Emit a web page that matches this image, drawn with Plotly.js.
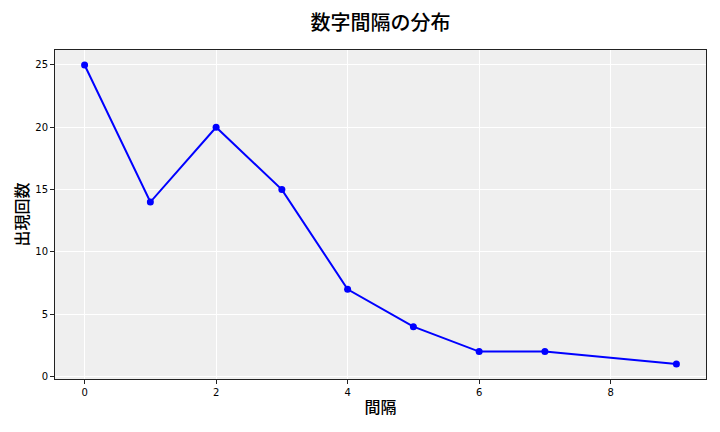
<!DOCTYPE html>
<html><head><meta charset="utf-8">
<script src="https://cdn.plot.ly/plotly-3.0.1.min.js"></script>
<style>body{margin:0;}#chart{width:720px;height:432px;}</style>
</head><body><div id="chart"></div>
<script>
const intervals = [0, 1, 2, 3, 4, 5, 6, 7, 9];
const counts = [25, 14, 20, 15, 7, 4, 2, 2, 1];
const xTicks = [0, 2, 4, 6, 8];
const yTicks = [0, 5, 10, 15, 20, 25];
const cjk = '"Noto Sans CJK JP", "DejaVu Sans", sans-serif';

const trace = {
  x: intervals, y: counts, type: 'scatter', mode: 'lines+markers',
  line: {color: '#0000ff', width: 2},
  marker: {color: '#0000ff', size: 7},
  hoverinfo: 'skip'
};
const axisBase = {
  showgrid: true, gridcolor: '#ffffff', gridwidth: 1,
  zeroline: false, showline: true, linecolor: '#222222', linewidth: 1, mirror: true,
  ticks: 'outside', ticklen: 4, tickcolor: '#222222', tickwidth: 1,
  tickfont: {family: '"DejaVu Sans", sans-serif', size: 10, color: '#000'}
};
const layout = {
  width: 720, height: 432,
  margin: {l: 55, r: 14, t: 50, b: 53},
  paper_bgcolor: '#ffffff', plot_bgcolor: '#efefef',
  showlegend: false,
  title: {text: '数字間隔の分布', xref: 'paper', x: 0.5, xanchor: 'center', y: 0.947, yanchor: 'middle',
          font: {family: cjk, size: 20, color: '#000', weight: 500}},
  xaxis: Object.assign({}, axisBase, {
    range: [-0.45, 9.45], tickvals: xTicks, ticktext: xTicks.map(String),
    title: {text: '間隔', font: {family: cjk, size: 16, color: '#000', weight: 500}, standoff: 4}
  }),
  yaxis: Object.assign({}, axisBase, {
    range: [-0.2, 26.2], tickvals: yTicks, ticktext: yTicks.map(String),
    title: {text: '出現回数', font: {family: cjk, size: 16, color: '#000', weight: 500}, standoff: 2}
  })
};
Plotly.newPlot('chart', [trace], layout, {displayModeBar: false, staticPlot: true});
</script>
</body></html>
